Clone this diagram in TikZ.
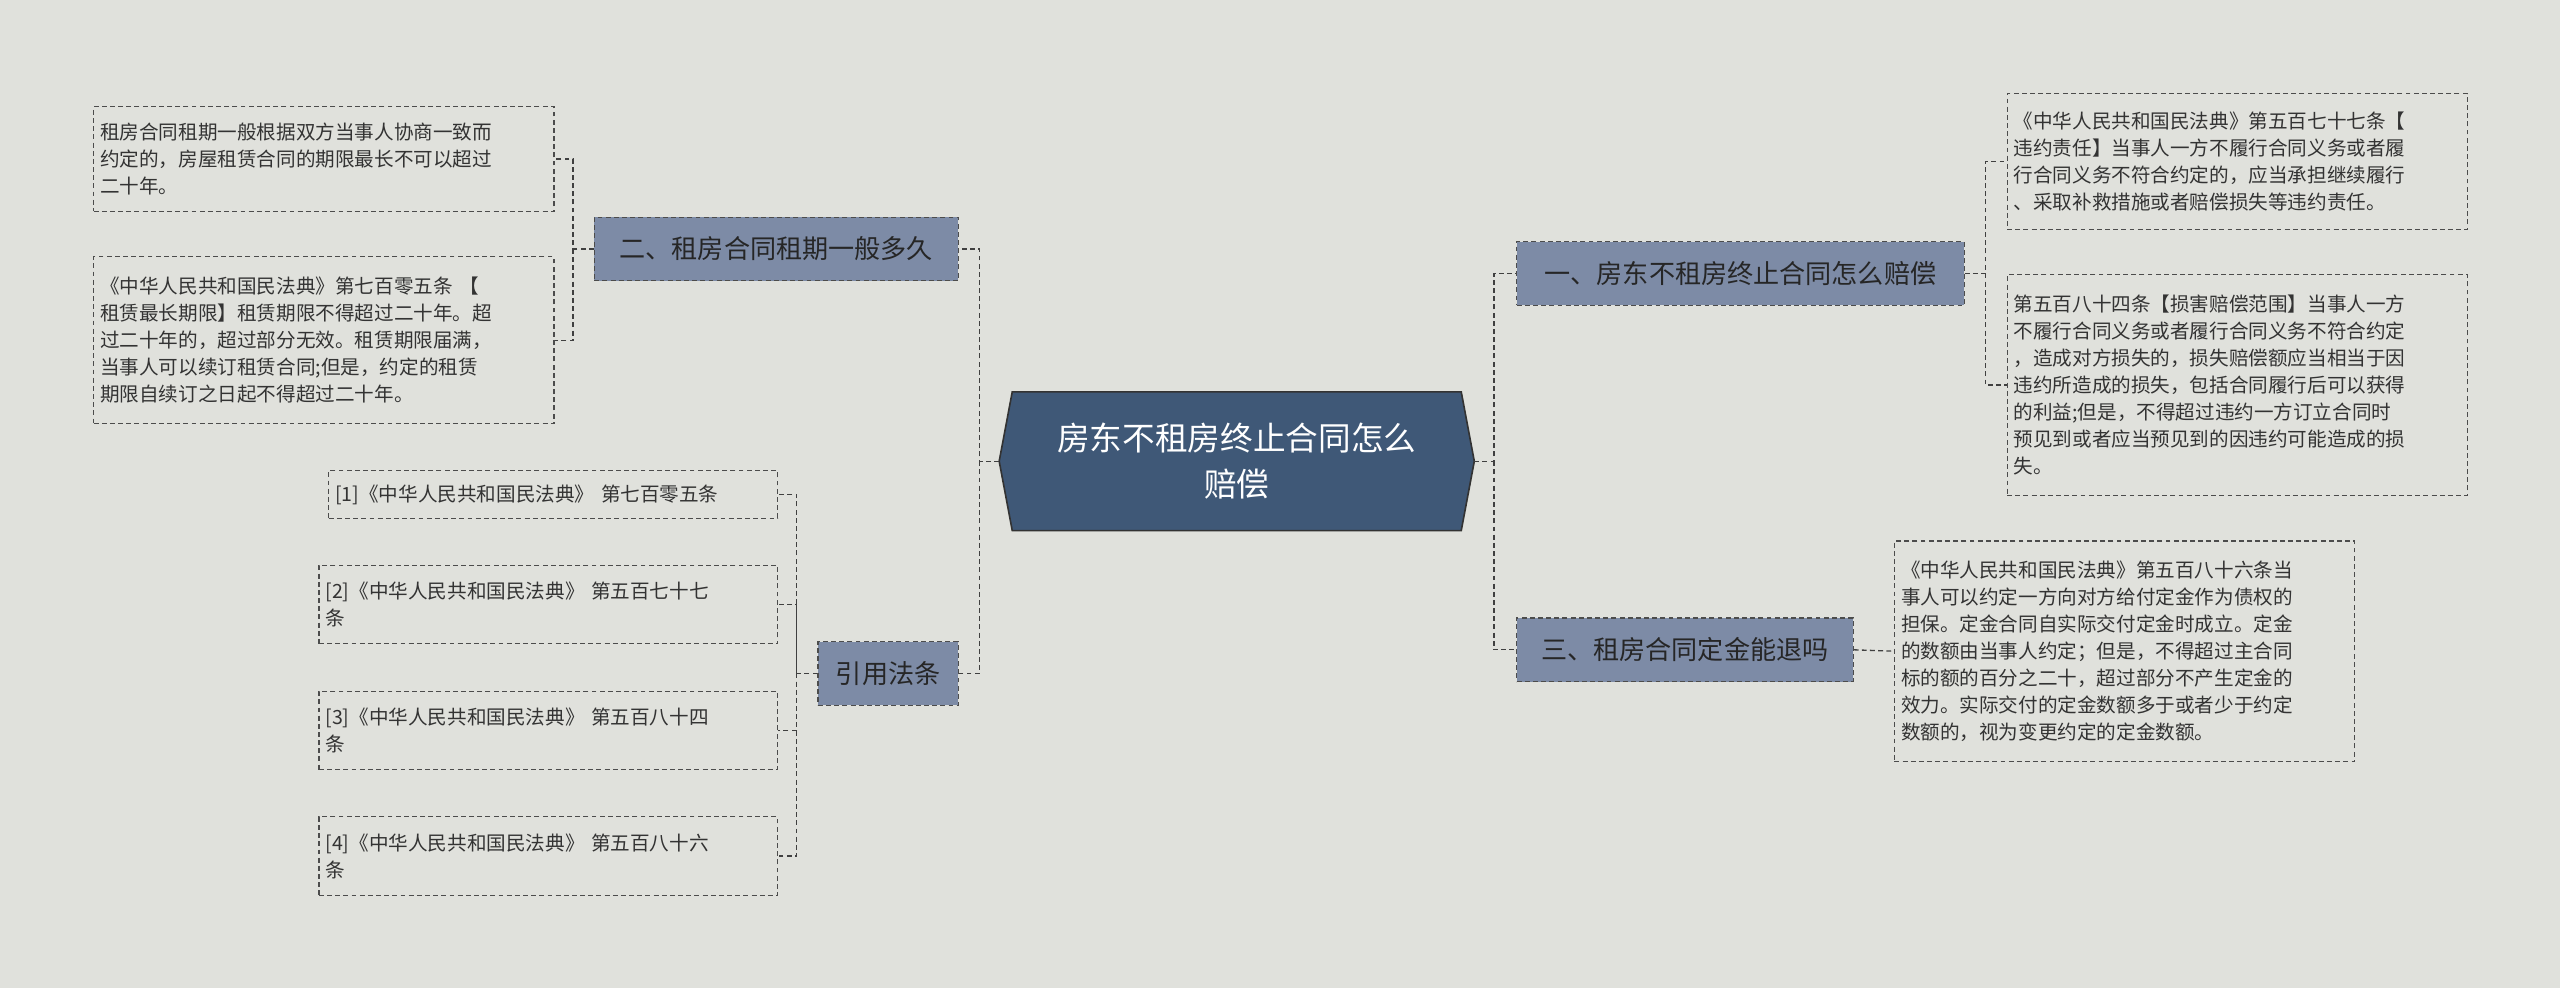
\documentclass[tikz,border=0pt]{standalone}
\usepackage{fontspec}
\setmainfont{Noto Sans CJK SC}
\begin{document}
\begin{tikzpicture}[x=1pt,y=-1pt,
  leaf/.style={draw=black!70,dashed,dash pattern=on 3pt off 2pt,line width=0.7pt,inner sep=4pt,align=left,font=\fontsize{12}{16.5}\selectfont,text=black!80,anchor=north west},
  branch/.style={draw=black!70,dashed,dash pattern=on 3pt off 2pt,line width=0.7pt,fill=brfill,font=\fontsize{16}{20}\selectfont,text=black!85,minimum height=39pt,inner sep=6pt},
  con/.style={draw=black!75,dashed,dash pattern=on 3pt off 2pt,line width=0.8pt}]
\definecolor{bg}{HTML}{E0E1DC}
\definecolor{brfill}{HTML}{7D8BA6}
\definecolor{cfill}{HTML}{3F5877}
\useasboundingbox[fill=bg] (0,0) rectangle (1568,605);
% center
\node (c) [minimum width=291pt,minimum height=85pt,text width=260pt,align=center,text=white,font=\fontsize{20}{28}\selectfont] at (757.5,282.5) {房东不租房终止合同怎么\\赔偿};
\draw[fill=cfill,draw=black!80,line width=1pt] (620,240) -- (895,240) -- (903,282.5) -- (895,325) -- (620,325) -- (612,282.5) -- cycle;
\node[text width=260pt,align=center,text=white,font=\fontsize{20}{28}\selectfont] at (757.5,282.5) {房东不租房终止合同怎么\\赔偿};
% branches
\node[branch,minimum width=223pt] (b2) at (475.5,152.5) {二、租房合同租期一般多久};
\node[branch,minimum width=86pt] (b4) at (544,412.5) {引用法条};
\node[branch,minimum width=274pt] (b1) at (1066,167.5) {一、房东不租房终止合同怎么赔偿};
\node[branch,minimum width=206pt] (b3) at (1032,398) {三、租房合同定金能退吗};
% leaves
\node[leaf,text width=274pt,minimum height=64pt] (l1) at (57,65) {租房合同租期一般根据双方当事人协商一致而\\约定的，房屋租赁合同的期限最长不可以超过\\二十年。};
\node[leaf,text width=274pt,minimum height=102pt] (l2) at (57,157) {《中华人民共和国民法典》第七百零五条 【\\租赁最长期限】租赁期限不得超过二十年。超\\过二十年的，超过部分无效。租赁期限届满，\\当事人可以续订租赁合同;但是，约定的租赁\\期限自续订之日起不得超过二十年。};
\node[leaf,text width=267pt,minimum height=29pt] (r1) at (201,288) {[1]《中华人民共和国民法典》 第七百零五条};
\node[leaf,text width=273pt,minimum height=48pt] (r2) at (195,346) {[2]《中华人民共和国民法典》 第五百七十七\\条};
\node[leaf,text width=273pt,minimum height=48pt] (r3) at (195,423) {[3]《中华人民共和国民法典》 第五百八十四\\条};
\node[leaf,text width=273pt,minimum height=48pt] (r4) at (195,500) {[4]《中华人民共和国民法典》 第五百八十六\\条};
\node[leaf,text width=274pt,minimum height=83pt] (k1) at (1229,57) {《中华人民共和国民法典》第五百七十七条【\\违约责任】当事人一方不履行合同义务或者履\\行合同义务不符合约定的，应当承担继续履行\\、采取补救措施或者赔偿损失等违约责任。};
\node[leaf,text width=274pt,minimum height=135pt] (k2) at (1229,168) {第五百八十四条【损害赔偿范围】当事人一方\\不履行合同义务或者履行合同义务不符合约定\\，造成对方损失的，损失赔偿额应当相当于因\\违约所造成的损失，包括合同履行后可以获得\\的利益;但是，不得超过违约一方订立合同时\\预见到或者应当预见到的因违约可能造成的损\\失。};
\node[leaf,text width=274pt,minimum height=135pt] (k3) at (1160,331) {《中华人民共和国民法典》第五百八十六条当\\事人可以约定一方向对方给付定金作为债权的\\担保。定金合同自实际交付定金时成立。定金\\的数额由当事人约定；但是，不得超过主合同\\标的额的百分之二十，超过部分不产生定金的\\效力。实际交付的定金数额多于或者少于约定\\数额的，视为变更约定的定金数额。};
% connectors
\draw[con] (612,282.5) -- (600,282.5) |- (b2.east);
\draw[con] (600,282.5) |- (b4.east);
\draw[con] (903,282.5) -- (915,282.5) |- (b1.west);
\draw[con] (915,282.5) |- (b3.west);
\draw[con] (b2.west) -- (351,152.5) |- (l1.east);
\draw[con] (351,152.5) |- (l2.east);
\draw[con] (b4.west) -- (488,412.5) |- (r1.east);
\draw[con] (488,412.5) |- (r2.east);
\draw[con] (488,412.5) |- (r3.east);
\draw[con] (488,412.5) |- (r4.east);
\draw[con] (b1.east) -- (1216,167.5) |- (k1.west);
\draw[con] (1216,167.5) |- (k2.west);
\draw[con] (b3.east) -- (k3.west);
\end{tikzpicture}
\end{document}
